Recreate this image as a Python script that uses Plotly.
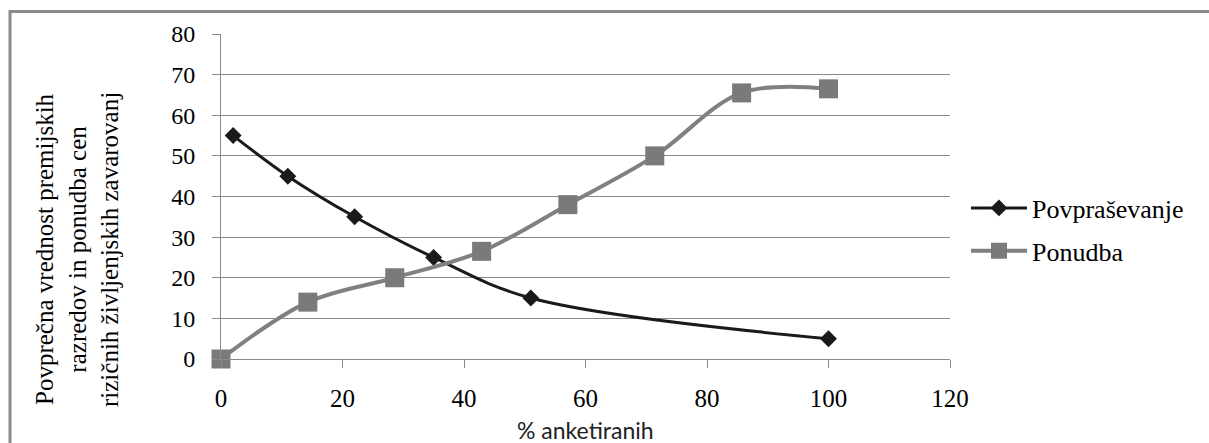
import plotly.graph_objects as go

# Data
demand_x = [2, 11, 22, 35, 51, 100]
demand_y = [55, 45, 35, 25, 15, 5]
supply_x = [0, 14.3, 28.6, 42.9, 57.1, 71.4, 85.7, 100]
supply_y = [0, 14, 20, 26.5, 38, 50, 65.5, 66.5]
series_names = ["Povpraševanje", "Ponudba"]
x_ticks = [0, 20, 40, 60, 80, 100, 120]
y_ticks = [0, 10, 20, 30, 40, 50, 60, 70, 80]
x_title = "% anketiranih"
y_title = "Povprečna vrednost premijskih<br>razredov in ponudba cen<br>rizičnih življenjskih zavarovanj"

W, H = 1209, 443
L, R, T, B = 221, 259, 34, 84
pw, ph = W - L - R, H - T - B

def px_to_paper_x(px):
    return (px - L) / pw

def px_to_paper_y(py):
    return (H - B - py) / ph

GRID = "#8a8a8a"
SERIF = "Liberation Serif"

fig = go.Figure()
fig.add_trace(go.Scatter(
    x=demand_x, y=demand_y, name=series_names[0], mode="lines+markers",
    line=dict(color="#1a1a1a", width=3, shape="spline", smoothing=1),
    marker=dict(symbol="diamond", size=13, color="#1a1a1a"),
    cliponaxis=False, legendgroup="a",
))
fig.add_trace(go.Scatter(
    x=supply_x, y=supply_y, name=series_names[1], mode="lines+markers",
    line=dict(color="#808080", width=4, shape="spline", smoothing=1),
    marker=dict(symbol="square", size=19, color="#7a7a7a"),
    cliponaxis=False, legendgroup="b",
))

fig.update_layout(
    width=W, height=H,
    margin=dict(l=L, r=R, t=T, b=B, autoexpand=False),
    paper_bgcolor="white", plot_bgcolor="white",
    font=dict(family=SERIF),
    showlegend=True,
    legend=dict(
        x=px_to_paper_x(966), y=px_to_paper_y(229.5), xanchor="left", yanchor="middle",
        font=dict(family=SERIF, size=26, color="black"),
        bgcolor="rgba(0,0,0,0)", itemwidth=56, tracegroupgap=6,
    ),
    xaxis=dict(
        range=[0, 120], tickvals=x_ticks, ticktext=[str(v) for v in x_ticks],
        showgrid=False, zeroline=False, showline=True, linecolor=GRID, linewidth=1,
        ticks="outside", ticklen=8, tickcolor=GRID, tickwidth=1,
        tickfont=dict(family=SERIF, size=25, color="black"),
        ticklabelstandoff=9,
    ),
    yaxis=dict(
        range=[0, 80], tickvals=y_ticks, ticktext=[str(v) for v in y_ticks],
        showgrid=True, gridcolor=GRID, gridwidth=1, zeroline=False,
        showline=True, linecolor=GRID, linewidth=1,
        ticks="outside", ticklen=8, tickcolor=GRID, tickwidth=1,
        tickfont=dict(family=SERIF, size=24, color="black"),
        ticklabelstandoff=12,
    ),
    annotations=[
        dict(text=y_title, textangle=-90, xref="paper", yref="paper",
             x=px_to_paper_x(77), y=px_to_paper_y(250), xanchor="center", yanchor="middle",
             showarrow=False, font=dict(family=SERIF, size=25, color="black")),
        dict(text=x_title, xref="paper", yref="paper",
             x=px_to_paper_x(585), y=px_to_paper_y(430), xanchor="center", yanchor="middle",
             showarrow=False, font=dict(family="Lato", size=23, color="#222222")),
    ],
    shapes=[
        dict(type="line", xref="paper", yref="paper",
             x0=px_to_paper_x(10), x1=px_to_paper_x(1215),
             y0=px_to_paper_y(11.5), y1=px_to_paper_y(11.5),
             line=dict(color="#8a8a8a", width=3)),
        dict(type="line", xref="paper", yref="paper",
             x0=px_to_paper_x(10), x1=px_to_paper_x(10),
             y0=px_to_paper_y(10), y1=px_to_paper_y(460),
             line=dict(color="#8a8a8a", width=3)),
    ],
)

fig.write_html("out.html")
